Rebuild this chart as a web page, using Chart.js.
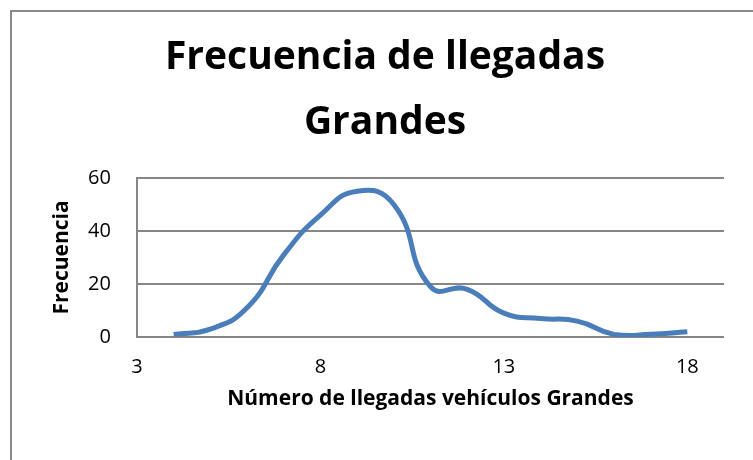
<!DOCTYPE html>
<html>
<head>
<meta charset="utf-8">
<script src="https://cdn.jsdelivr.net/npm/chart.js@4"></script>
<style>
  html, body { margin: 0; padding: 0; background: #fff; }
  #wrap { position: relative; width: 753px; height: 460px; overflow: hidden; }
  #frame { position: absolute; left: 10px; top: 10px; width: 800px; height: 500px;
           border-left: 2px solid #8a8a8a; border-top: 2px solid #8a8a8a; }
  canvas { position: absolute; left: 0; top: 0; }
</style>
</head>
<body>
<div id="wrap">
  <div id="frame"></div>
  <canvas id="chart" width="753" height="460"></canvas>
</div>
<script>
// data
const llegadas = [4, 5, 6, 7, 8, 9, 10, 11, 12, 13, 14, 15, 16, 17, 18];
const frecuencia = [1, 3, 11, 31, 46, 55, 50, 19, 18, 9, 7, 6, 1, 1, 2];
const xTicks = [3, 8, 13, 18];
const yTicks = [0, 20, 40, 60];

const titleLines = ['Frecuencia de llegadas', 'Grandes'];
const xTitle = 'Número de llegadas vehículos Grandes';
const yTitle = 'Frecuencia';

const gridColor = '#878787';
const lineColor = '#4a7ebb';
const fontFam = "'Open Sans', 'DejaVu Sans', sans-serif";

const points = llegadas.map((v, i) => ({ x: v, y: frecuencia[i] }));

const ctx = document.getElementById('chart').getContext('2d');
new Chart(ctx, {
    type: 'line',
    data: {
        datasets: [{
            label: yTitle,
            data: points,
            borderColor: lineColor,
            backgroundColor: lineColor,
            borderWidth: 5,
            pointRadius: 0,
            tension: 0.5,
            fill: false
        }]
    },
    options: {
        responsive: false,
        animation: false,
        // left padding moves the main title to the right, y title padding takes it back
        layout: { padding: { left: 46, right: 29, top: 0, bottom: 0 } },
        plugins: {
            legend: { display: false },
            tooltip: { enabled: false },
            title: {
                display: true,
                text: titleLines,
                color: '#000',
                font: { family: fontFam, size: 39, weight: 'bold', lineHeight: '65px' },
                padding: { top: 25, bottom: 23 }
            }
        },
        scales: {
            x: {
                type: 'linear',
                min: 3,
                max: 19,
                afterBuildTicks: (s) => { s.ticks = xTicks.map(v => ({ value: v })); },
                grid: { display: false, drawTicks: false },
                border: { display: false },
                ticks: {
                    color: '#000',
                    padding: 18,
                    maxRotation: 0,
                    font: { family: fontFam, size: 20 }
                },
                title: {
                    display: true,
                    text: xTitle,
                    color: '#000',
                    font: { family: fontFam, size: 21, weight: 'bold', lineHeight: 1.2 },
                    // chart.js counts tick padding twice, so pull the title in
                    padding: { top: -10.6, bottom: 48.4 }
                }
            },
            y: {
                min: 0,
                max: 60,
                afterBuildTicks: (s) => { s.ticks = yTicks.map(v => ({ value: v })); },
                grid: { color: gridColor, lineWidth: 2, drawTicks: false },
                border: { display: true, color: gridColor, width: 2 },
                ticks: {
                    color: '#000',
                    padding: 26,
                    font: { family: fontFam, size: 20 }
                },
                title: {
                    display: true,
                    text: yTitle,
                    color: '#000',
                    font: { family: fontFam, size: 21, weight: 'bold', lineHeight: 1.2 },
                    padding: { top: 3.4, bottom: -12.5 }
                }
            }
        }
    }
});
</script>
</body>
</html>
